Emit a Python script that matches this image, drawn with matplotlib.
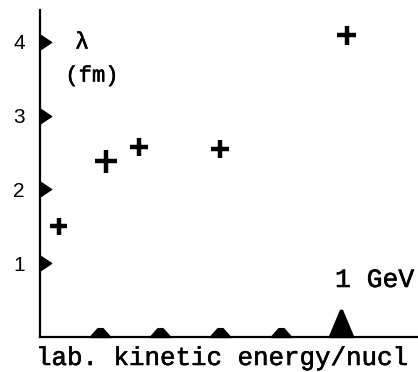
import matplotlib
matplotlib.use('Agg')
import matplotlib.pyplot as plt
import matplotlib.patheffects as pe

# data (x in GeV per nucleon, lambda in fm)
energy = [0.063, 0.22, 0.33, 0.60, 1.02]
lam = [1.50, 2.38, 2.57, 2.55, 4.09]
cross_size = [150, 260, 170, 170, 190]

y_ticks = [1, 2, 3, 4]
y_labels = ['1', '2', '3', '4']
x_ticks = [0.2, 0.4, 0.6, 0.8]
x_big_tick = [1.0]

fig = plt.figure(figsize=(4.18, 3.72), dpi=100)
ax = fig.add_axes([40 / 418, 35 / 372, 378 / 418, 327 / 372])

ax.scatter(energy, lam, s=cross_size, marker='+', color='black',
           linewidths=3.2, clip_on=False, zorder=3)

# hand-drawn looking tick markers
right_tri = [(0, -0.5), (0.75, 0), (0, 0.5), (0, -0.5)]
bump = [(-1, 0), (-0.25, 0.85), (0.25, 0.85), (1, 0), (-1, 0)]
spike = [(-0.5, 0), (-0.25, 0.6), (-0.04, 1.1), (0.04, 1.1), (0.25, 0.6),
         (0.5, 0), (-0.5, 0)]
ax.plot([0] * len(y_ticks), y_ticks, linestyle='none', marker=right_tri,
        markersize=16, color='black', clip_on=False, zorder=4)
ax.plot(x_ticks, [0] * len(x_ticks), linestyle='none', marker=bump,
        markersize=15, color='black', clip_on=False, zorder=4)
ax.plot(x_big_tick, [0], linestyle='none', marker=spike,
        markersize=39, color='black', clip_on=False, zorder=4)

ax.set_xlim(0, 1.257)
ax.set_ylim(0, 4.43)
ax.set_yticks(y_ticks)
ax.set_yticklabels(y_labels, fontsize=15, family='Liberation Sans')
ax.set_xticks([])
ax.tick_params(axis='y', length=0, pad=11)

for side in ['top', 'right']:
    ax.spines[side].set_visible(False)
for side in ['left', 'bottom']:
    ax.spines[side].set_linewidth(1.6)

mono = 'Liberation Mono'
thick = [pe.withStroke(linewidth=0.4, foreground='black')]
fig.text(82 / 418, 1 - 42 / 372, 'λ', fontsize=17, family=mono,
         ha='center', va='center', path_effects=thick)
fig.text(92 / 418, 1 - 76 / 372, '(fm)', fontsize=16, family=mono,
         ha='center', va='center', path_effects=thick)
fig.text(335 / 418, 1 - 280 / 372, '1 GeV', fontsize=19, family=mono,
         ha='left', va='center', path_effects=thick)
fig.text(36 / 418, 1 - 365 / 372, 'lab. kinetic energy/nucl', fontsize=18.6,
         family=mono, ha='left', va='baseline', path_effects=thick)

fig.savefig('out.png', dpi=100)
